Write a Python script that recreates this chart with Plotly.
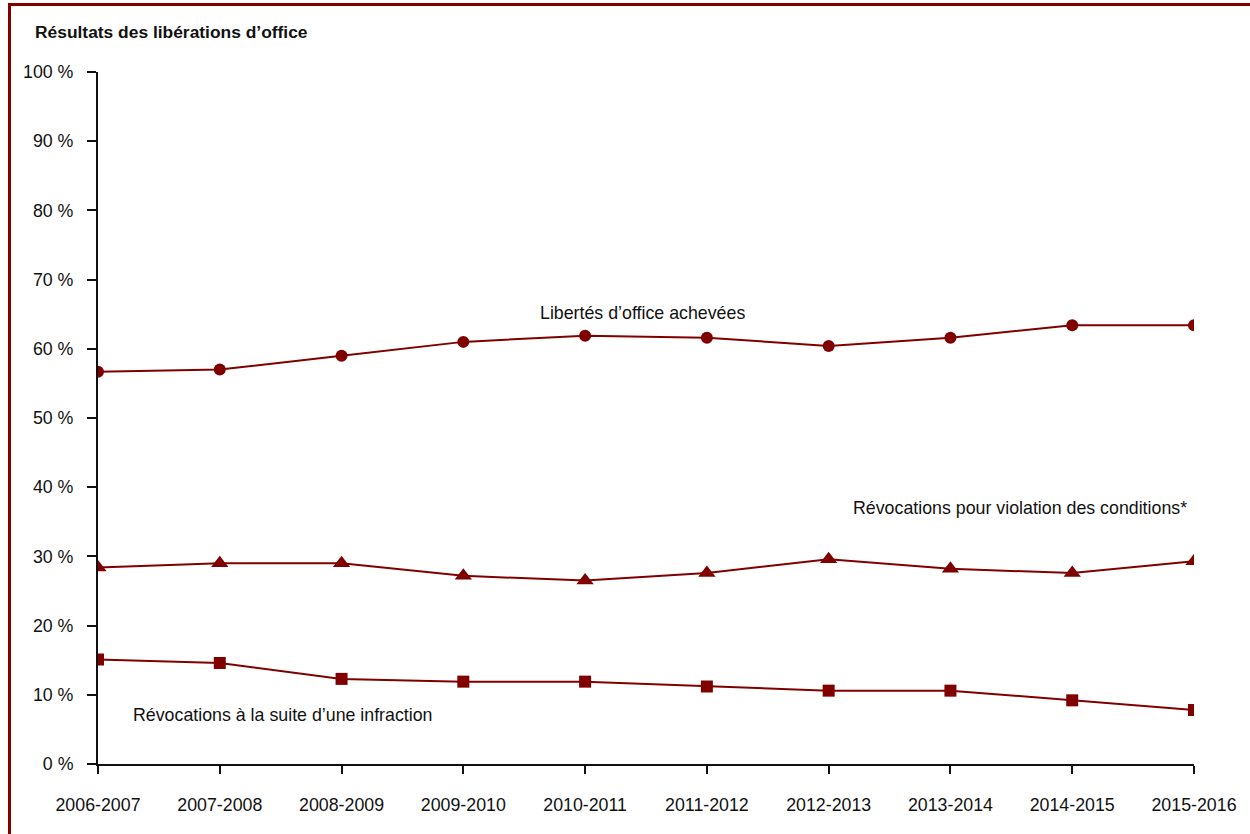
import plotly.graph_objects as go

# Fiscal years on the horizontal axis
years = ["2006-2007", "2007-2008", "2008-2009", "2009-2010", "2010-2011",
         "2011-2012", "2012-2013", "2013-2014", "2014-2015", "2015-2016"]

# Outcome shares (%)
completed = [56.7, 57.0, 59.0, 61.0, 61.9, 61.6, 60.4, 61.6, 63.4, 63.4]
breach_revocations = [28.4, 29.0, 29.0, 27.2, 26.5, 27.6, 29.6, 28.2, 27.6, 29.3]
offence_revocations = [15.1, 14.6, 12.3, 11.9, 11.9, 11.2, 10.6, 10.6, 9.2, 7.8]

y_ticks = list(range(0, 101, 10))
y_tick_text = [f"{v} %" for v in y_ticks]

RED = "#800000"
TXT = "#111111"
FONT = "Liberation Sans, Arial, sans-serif"
FS = 17.8

fig = go.Figure()

series = [
    (completed, "circle", 12),
    (breach_revocations, "triangle-up", 15),
    (offence_revocations, "square", 12),
]
for values, symbol, size in series:
    fig.add_trace(go.Scatter(
        x=years, y=values, mode="lines+markers",
        line=dict(color=RED, width=2),
        marker=dict(symbol=symbol, size=size, color=RED, line=dict(width=0)),
        showlegend=False, hoverinfo="x+y",
    ))

# Series labels, anchored in data coordinates
labels = [
    ("Libertés d’office achevées", 4.47, 65.2),
    ("Révocations pour violation des conditions*", 7.57, 37.0),
    ("Révocations à la suite d’une infraction", 1.52, 7.1),
]
for text, xi, yv in labels:
    fig.add_annotation(x=xi, y=yv, xref="x", yref="y", text=text,
                       showarrow=False, xanchor="center", yanchor="middle",
                       font=dict(family=FONT, size=FS, color=TXT))

L, R, T, B = 98, 56, 72, 70
W, H = 1250, 834
pw, ph = W - L - R, H - T - B

def px_x(p):
    return (p - L) / pw

def px_y(p):
    return (H - B - p) / ph

# Chart heading
fig.add_annotation(x=px_x(33), y=px_y(32), xref="paper", yref="paper",
                   text="<b>Résultats des libérations d’office</b>",
                   showarrow=False, xanchor="left", yanchor="middle",
                   font=dict(family=FONT, size=17.4, color=TXT))

# Dark red frame along the left and top edges
fig.add_shape(type="rect", xref="paper", yref="paper",
              x0=px_x(8), x1=px_x(11), y0=px_y(H), y1=px_y(3),
              fillcolor=RED, line=dict(width=0), layer="above")
fig.add_shape(type="rect", xref="paper", yref="paper",
              x0=px_x(8), x1=px_x(W), y0=px_y(6), y1=px_y(3),
              fillcolor=RED, line=dict(width=0), layer="above")

fig.update_layout(
    width=W, height=H,
    margin=dict(l=L, r=R, t=T, b=B, autoexpand=False),
    paper_bgcolor="white", plot_bgcolor="white",
    font=dict(family=FONT, size=FS, color=TXT),
)
fig.update_xaxes(
    type="category", range=[0, len(years) - 1], automargin=False,
    showgrid=False, zeroline=False,
    showline=True, linecolor=TXT, linewidth=2,
    ticks="outside", ticklen=8, tickwidth=2, tickcolor=TXT,
    ticklabelstandoff=16,
    tickfont=dict(family=FONT, size=FS, color=TXT),
)
fig.update_yaxes(
    range=[0, 100], tickvals=y_ticks, ticktext=y_tick_text, automargin=False,
    showgrid=False, zeroline=False,
    showline=True, linecolor=TXT, linewidth=2,
    ticks="outside", ticklen=9, tickwidth=2, tickcolor=TXT,
    ticklabelstandoff=10,
    tickfont=dict(family=FONT, size=FS, color=TXT),
)

fig.write_html("out.html")
